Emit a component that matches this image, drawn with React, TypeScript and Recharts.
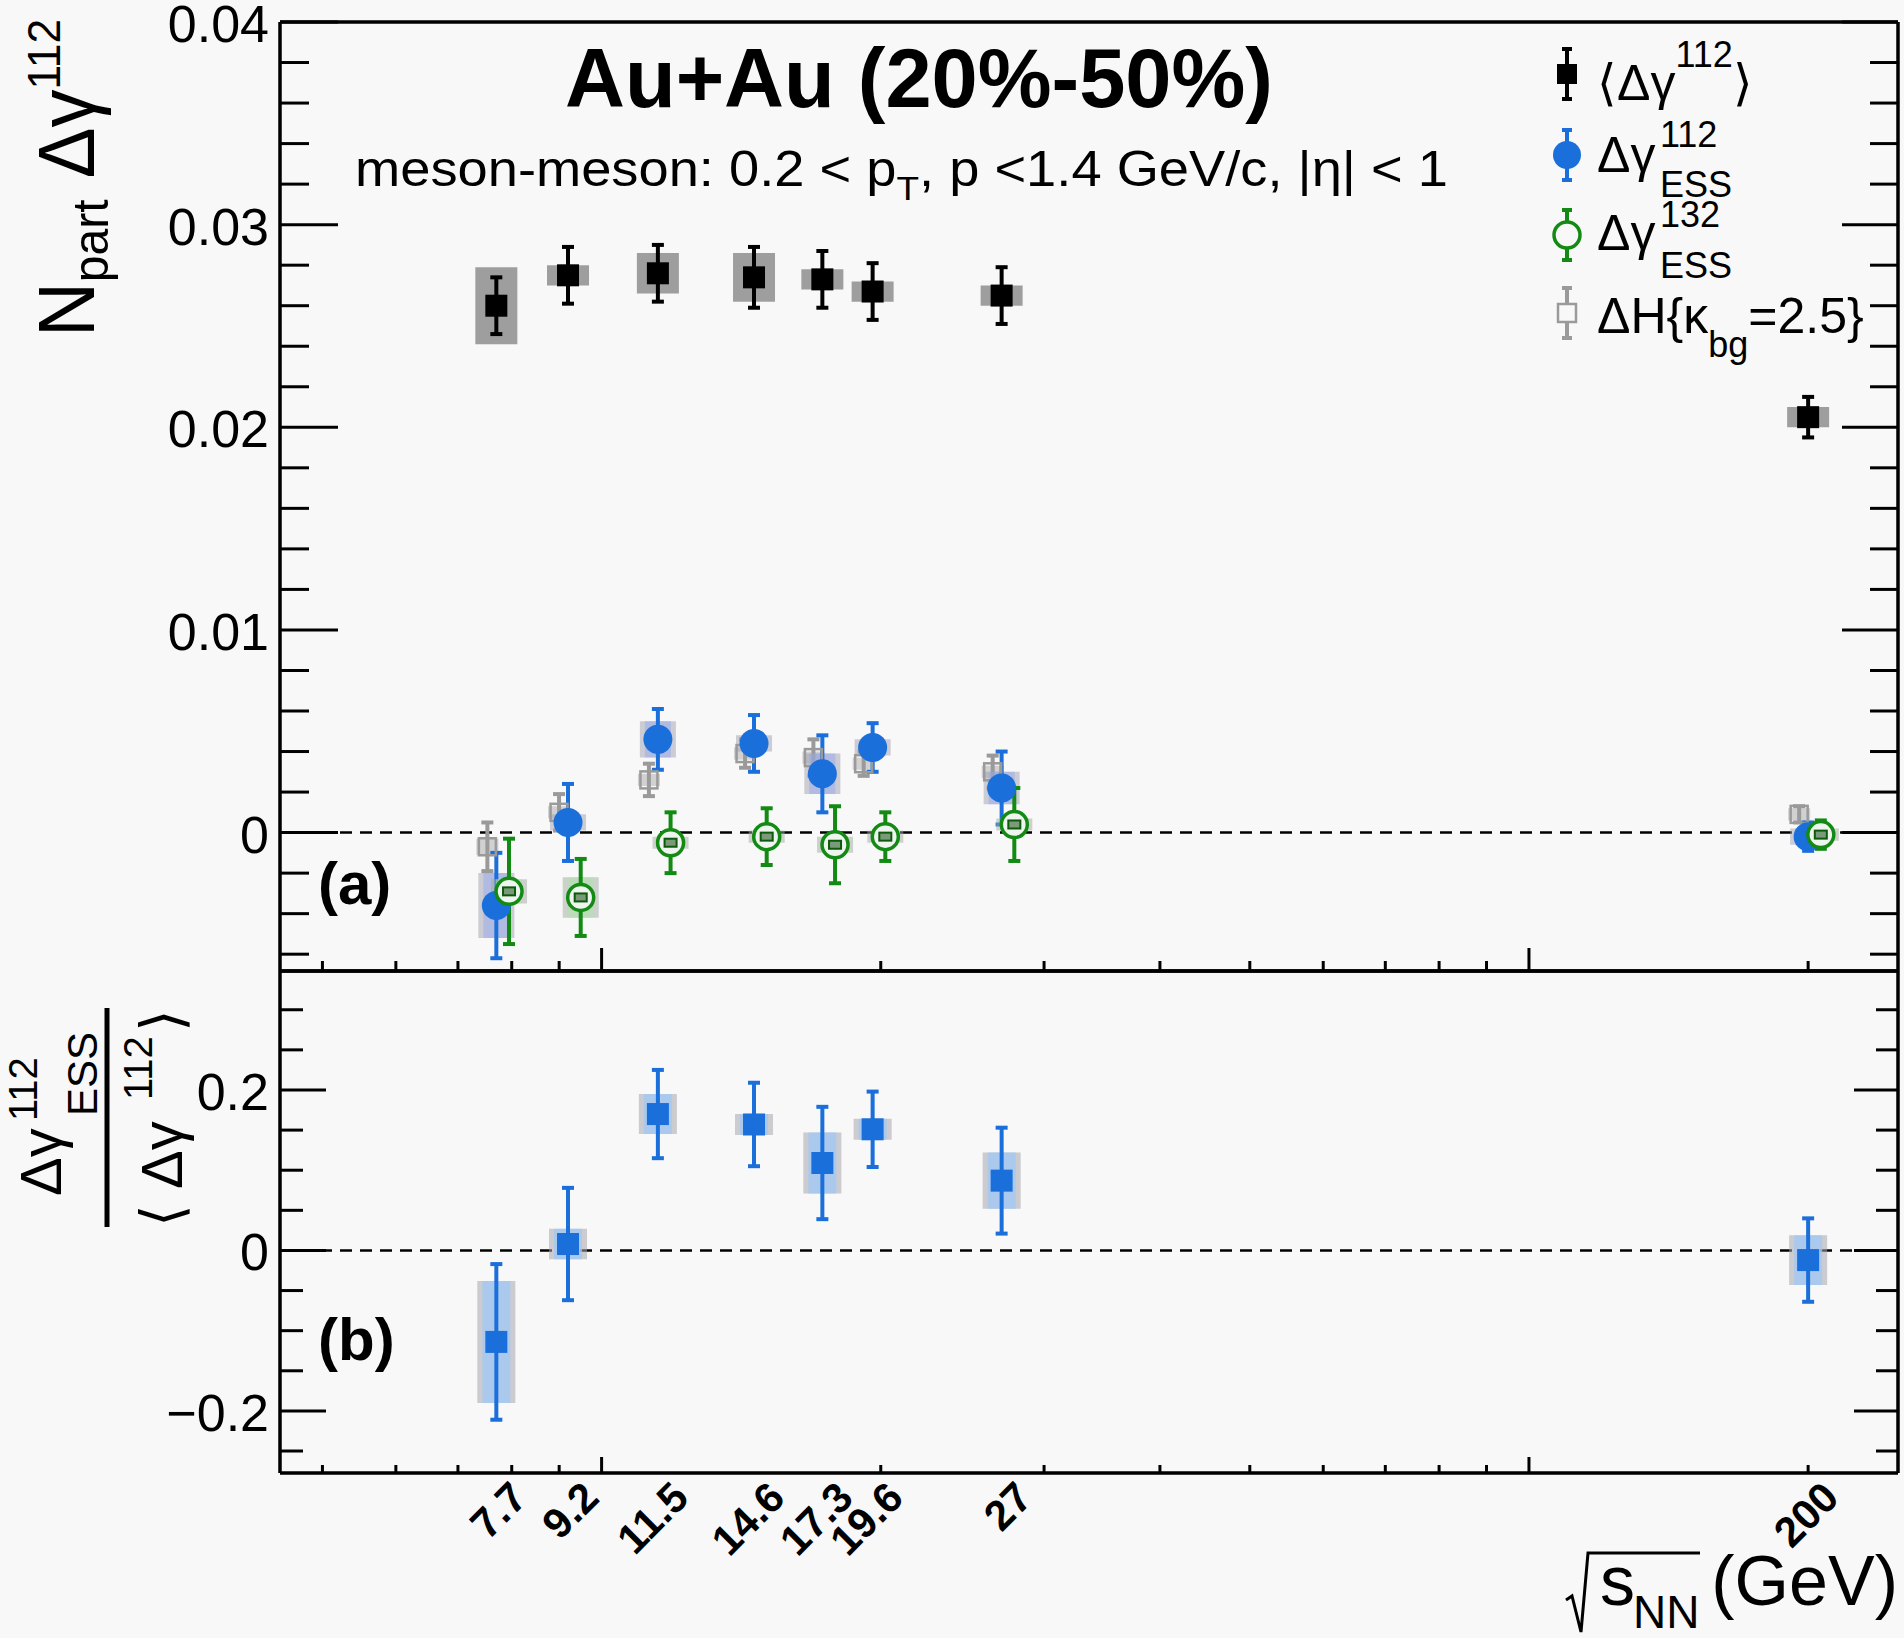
import React from "react";
import { ComposedChart, Scatter, XAxis, YAxis, ErrorBar, ReferenceLine } from "recharts";

// beam energies (GeV) and their axis labels
const ENERGIES = [7.7, 9.2, 11.5, 14.6, 17.3, 19.6, 27, 200];
const ENERGY_LABELS = ["7.7", "9.2", "11.5", "14.6", "17.3", "19.6", "27", "200"];

// <Δγ112>
const MEAN_DG = [0.026, 0.0275, 0.0276, 0.0274, 0.0273, 0.0267, 0.0265, 0.0205];
const MEAN_DG_STAT = [0.0014, 0.0014, 0.0014, 0.0015, 0.0014, 0.0014, 0.0014, 0.001];
const MEAN_DG_SYS = [0.0019, 0.0005, 0.001, 0.0012, 0.0005, 0.0005, 0.0005, 0.0005];

// Δγ112 ESS
const ESS_DG = [-0.0036, 0.0005, 0.0046, 0.0044, 0.0029, 0.0042, 0.0022, -0.0002];
const ESS_DG_STAT = [0.0026, 0.0019, 0.0015, 0.0014, 0.0019, 0.0012, 0.0018, 0.0007];
const ESS_DG_SYS = [0.0016, 0.0004, 0.0009, 0.0004, 0.001, 0.0004, 0.0008, 0.0004];

// Δγ132 ESS
const ESS_DG132 = [-0.0029, -0.0032, -0.0005, -0.0002, -0.0006, -0.0002, 0.0004, -0.0001];
const ESS_DG132_STAT = [0.0026, 0.0019, 0.0015, 0.0014, 0.0019, 0.0012, 0.0018, 0.0007];
const ESS_DG132_SYS = [0.0006, 0.001, 0.0003, 0.0003, 0.0004, 0.0003, 0.0003, 0.0003];

// ΔH{κbg=2.5}
const DELTA_H = [-0.0007, 0.001, 0.0026, 0.0039, 0.0037, 0.0034, 0.003, 0.0009];
const DELTA_H_STAT = [0.0012, 0.0009, 0.0008, 0.0007, 0.0009, 0.0006, 0.0008, 0.0004];
const DELTA_H_SYS = [0.0004, 0.0003, 0.0003, 0.0003, 0.0003, 0.0003, 0.0003, 0.0003];

// Δγ112 ESS / <Δγ112>
const RATIO = [-0.114, 0.008, 0.17, 0.157, 0.109, 0.151, 0.087, -0.012];
const RATIO_STAT = [0.097, 0.07, 0.055, 0.052, 0.07, 0.047, 0.066, 0.052];
const RATIO_SYS = [0.076, 0.019, 0.025, 0.013, 0.038, 0.013, 0.035, 0.031];

// axis ticks
const X_MINOR = [5, 6, 7, 8, 9, 20, 30, 40, 50, 60, 70, 80, 90, 200];
const X_MAJOR = [10, 100];
const X_TICKS = Array.from(new Set([...X_MINOR, ...X_MAJOR, ...ENERGIES])).sort((a, b) => a - b);
const UPPER_Y_TICKS = Array.from({ length: 24 }, (_, i) => Number((-0.006 + 0.002 * i).toFixed(3)));
const LOWER_Y_TICKS = Array.from({ length: 12 }, (_, i) => Number((-0.25 + 0.05 * i).toFixed(2)));

// layout
const W = 1904;
const H = 1638;
const LEFT = 280;
const RIGHT = 1898;
const TOP = 22;
const MID = 971;
const BOTTOM = 1473;
const X_DOMAIN = [4.5, 250];
const UPPER_Y_DOMAIN = [-0.00683, 0.04];
const LOWER_Y_DOMAIN = [-0.2774, 0.3483];
const FONT = '"Liberation Sans", Arial, Helvetica, sans-serif';
const BG = "#f8f8f8";
const BLUE = "#1a6fdb";
const GREEN = "#138a13";
const GREY = "#9a9a9a";

// small x shifts used in the original figure so points don't overlap
const SHIFT_GREY = 0.978;
const SHIFT_GREEN = 1.032;

const rows = (ys: number[], stat: number[], sys: number[], shift = 1) =>
  ENERGIES.map((e, i) => ({ x: e * shift, y: ys[i], stat: stat[i], sys: sys[i] }));

const meanRows = rows(MEAN_DG, MEAN_DG_STAT, MEAN_DG_SYS);
const essRows = rows(ESS_DG, ESS_DG_STAT, ESS_DG_SYS);
const ess132Rows = rows(ESS_DG132, ESS_DG132_STAT, ESS_DG132_SYS, SHIFT_GREEN);
const dhRows = rows(DELTA_H, DELTA_H_STAT, DELTA_H_SYS, SHIFT_GREY);
const ratioRows = rows(RATIO, RATIO_STAT, RATIO_SYS);

const near = (v: number, list: number[]) => list.some((t) => Math.abs(t - v) < 1e-9);

function xTick(minorLen: number, majorLen: number, dir: number, labels: boolean) {
  return (props: any) => {
    const { x, y, payload } = props;
    const v = payload.value;
    const len = near(v, X_MAJOR) ? majorLen : near(v, X_MINOR) ? minorLen : 0;
    const idx = ENERGIES.findIndex((e) => Math.abs(e - v) < 1e-9);
    const lx = x + 33;
    const ly = y + 27;
    return (
      <g>
        {len > 0 && <line x1={x} y1={y} x2={x} y2={y - dir * len} stroke="#000" strokeWidth={3} />}
        {labels && idx >= 0 && (
          <text
            x={lx}
            y={ly}
            transform={`rotate(-45 ${lx} ${ly})`}
            textAnchor="end"
            fontFamily={FONT}
            fontWeight="bold"
            fontSize={42}
            fill="#000"
          >
            {ENERGY_LABELS[idx]}
          </text>
        )}
      </g>
    );
  };
}

function yTick(step: number, majorLen: number, minorLen: number, dir: number, fmt?: (v: number) => string) {
  return (props: any) => {
    const { x, y, payload } = props;
    const v = payload.value;
    const major = Math.abs(v / step - Math.round(v / step)) < 1e-6;
    const len = major ? majorLen : minorLen;
    return (
      <g>
        <line x1={x} y1={y} x2={x + dir * len} y2={y} stroke="#000" strokeWidth={3} />
        {fmt && major && (
          <text x={x - 11} y={y} dy={20} textAnchor="end" fontFamily={FONT} fontSize={52} fill="#000">
            {fmt(v)}
          </text>
        )}
      </g>
    );
  };
}

const fmtUpper = (v: number) => (Math.abs(v) < 1e-9 ? "0" : v.toFixed(2));
const fmtLower = (v: number) => (Math.abs(v) < 1e-9 ? "0" : (v < 0 ? "\u2212" : "") + Math.abs(v).toFixed(1));

const AXIS_LINE = { stroke: "#000", strokeWidth: 3.5 };

// markers
const BlackSquare = (p: any) => <rect x={p.cx - 11} y={p.cy - 11} width={22} height={22} fill="#000" />;
const BlueCircle = (p: any) => <circle cx={p.cx} cy={p.cy} r={14.5} fill={BLUE} />;
const GreenOpenCircle = (p: any) => (
  <g>
    <circle cx={p.cx} cy={p.cy} r={13} fill="#eef5ee" stroke={GREEN} strokeWidth={3.5} />
    <rect x={p.cx - 6} y={p.cy - 4} width={12} height={8} fill="#7a9a7a" stroke="#0d5a0d" strokeWidth={2} />
  </g>
);
const GreyOpenSquare = (p: any) => (
  <rect x={p.cx - 8.5} y={p.cy - 8.5} width={17} height={17} fill="none" stroke={GREY} strokeWidth={2.5} />
);
const BlueSquare = (p: any) => <rect x={p.cx - 11} y={p.cy - 11} width={22} height={22} fill={BLUE} />;

// systematic boxes are drawn as wide error bars: an outer grey one and an optional tinted core
function renderSeries(data: any[], shape: any, color: string, sysColor: string, sysWidth: number, coreColor?: string) {
  return (
    <Scatter data={data} xAxisId="b" yAxisId="l" dataKey="y" shape={shape} isAnimationActive={false}>
      <ErrorBar dataKey="sys" direction="y" width={0} stroke={sysColor} strokeWidth={sysWidth} isAnimationActive={false} />
      {coreColor && (
        <ErrorBar dataKey="sys" direction="y" width={0} stroke={coreColor} strokeWidth={sysWidth - 10} isAnimationActive={false} />
      )}
      <ErrorBar dataKey="stat" direction="y" width={6} stroke={color} strokeWidth={4} isAnimationActive={false} />
    </Scatter>
  );
}

// Recharts skips axes with zero size, so every axis gets 1px and the margins take it back
function frameAxes(yDomain: number[], yTicks: number[], step: number, yMajor: number, yMinor: number,
  fmt: (v: number) => string, xMinor: number, xMajor: number, bottomLabels: boolean, topTicks: boolean) {
  return [
    <XAxis
      key="xb"
      xAxisId="b"
      dataKey="x"
      type="number"
      scale="log"
      domain={X_DOMAIN}
      allowDataOverflow
      ticks={X_TICKS}
      interval={0}
      height={1}
      tickSize={0}
      tickMargin={0}
      tickLine={false}
      axisLine={AXIS_LINE}
      tick={xTick(xMinor, xMajor, 1, bottomLabels)}
    />,
    <XAxis
      key="xt"
      xAxisId="t"
      orientation="top"
      type="number"
      scale="log"
      domain={X_DOMAIN}
      allowDataOverflow
      ticks={X_TICKS}
      interval={0}
      height={1}
      tickSize={0}
      tickMargin={0}
      tickLine={false}
      axisLine={AXIS_LINE}
      tick={topTicks ? xTick(xMinor, xMajor, -1, false) : false}
    />,
    <YAxis
      key="yl"
      yAxisId="l"
      dataKey="y"
      type="number"
      domain={yDomain}
      allowDataOverflow
      ticks={yTicks}
      interval={0}
      width={1}
      tickSize={0}
      tickMargin={0}
      tickLine={false}
      axisLine={AXIS_LINE}
      tick={yTick(step, yMajor, yMinor, 1, fmt)}
    />,
    <YAxis
      key="yr"
      yAxisId="r"
      orientation="right"
      type="number"
      domain={yDomain}
      allowDataOverflow
      ticks={yTicks}
      interval={0}
      width={1}
      tickSize={0}
      tickMargin={0}
      tickLine={false}
      axisLine={AXIS_LINE}
      tick={yTick(step, yMajor - 2, yMinor - 1, -1)}
    />,
  ];
}

function UpperPanel() {
  return (
    <ComposedChart width={W} height={H} margin={{ top: TOP - 1, left: LEFT - 1, right: W - RIGHT - 1, bottom: H - MID - 1 }}>
      {frameAxes(UPPER_Y_DOMAIN, UPPER_Y_TICKS, 0.01, 58, 29, fmtUpper, 10, 23, false, false)}
      <ReferenceLine xAxisId="b" yAxisId="l" y={0} stroke="#000" strokeWidth={2.5} strokeDasharray="12 8" />
      {renderSeries(meanRows, BlackSquare, "#000", "rgba(120,120,120,0.7)", 42)}
      {renderSeries(dhRows, GreyOpenSquare, GREY, "rgba(170,170,170,0.5)", 22)}
      {renderSeries(essRows, BlueCircle, BLUE, "rgba(160,160,175,0.5)", 36, "rgba(150,170,240,0.5)")}
      {renderSeries(ess132Rows, GreenOpenCircle, GREEN, "rgba(160,170,160,0.5)", 36, "rgba(170,230,170,0.5)")}
    </ComposedChart>
  );
}

function LowerPanel() {
  return (
    <ComposedChart width={W} height={H} margin={{ top: MID - 1, left: LEFT - 1, right: W - RIGHT - 1, bottom: H - BOTTOM - 1 }}>
      {frameAxes(LOWER_Y_DOMAIN, LOWER_Y_TICKS, 0.2, 46, 23, fmtLower, 8, 16, true, true)}
      <ReferenceLine xAxisId="b" yAxisId="l" y={0} stroke="#000" strokeWidth={2.5} strokeDasharray="12 8" />
      {renderSeries(ratioRows, BlueSquare, BLUE, "rgba(165,165,175,0.55)", 38, "rgba(160,200,245,0.75)")}
    </ComposedChart>
  );
}

function LegendMark({ y, color, children }: any) {
  return (
    <g>
      <line x1={1567} y1={y - 25} x2={1567} y2={y + 25} stroke={color} strokeWidth={4} />
      <line x1={1562} y1={y - 25} x2={1572} y2={y - 25} stroke={color} strokeWidth={4} />
      <line x1={1562} y1={y + 25} x2={1572} y2={y + 25} stroke={color} strokeWidth={4} />
      {children}
    </g>
  );
}

function Overlay() {
  const t = { fontFamily: FONT, fill: "#000" } as any;
  return (
    <svg width={W} height={H} style={{ position: "absolute", left: 0, top: 0 }}>
      {/* title */}
      <text x={919} y={107} textAnchor="middle" fontWeight="bold" fontSize={83} {...t}>
        Au+Au (20%-50%)
      </text>
      <text x={355} y={186} fontSize={50} textLength={1093} lengthAdjust="spacingAndGlyphs" {...t}>
        meson-meson: 0.2 &lt; p
        <tspan fontSize={34} dy={14}>T</tspan>
        <tspan dy={-14}>, p &lt;1.4 GeV/c, |η| &lt; 1</tspan>
      </text>
      <text x={318} y={904} fontWeight="bold" fontSize={60} {...t}>(a)</text>
      <text x={318} y={1360} fontWeight="bold" fontSize={60} {...t}>(b)</text>

      {/* legend */}
      <LegendMark y={74} color="#000">
        <rect x={1557} y={64} width={20} height={20} fill="#000" />
      </LegendMark>
      <LegendMark y={155} color={BLUE}>
        <circle cx={1567} cy={155} r={14} fill={BLUE} />
      </LegendMark>
      <LegendMark y={235} color={GREEN}>
        <circle cx={1567} cy={235} r={13} fill={BG} stroke={GREEN} strokeWidth={3.5} />
      </LegendMark>
      <LegendMark y={313} color={GREY}>
        <rect x={1558} y={304} width={18} height={18} fill={BG} stroke={GREY} strokeWidth={2.5} />
      </LegendMark>
      <text x={1597} y={100} fontSize={50} {...t}>
        ⟨Δγ<tspan fontSize={36} dy={-33}>112</tspan>
        <tspan dy={33}>⟩</tspan>
      </text>
      <text x={1597} y={172} fontSize={50} {...t}>Δγ</text>
      <text x={1660} y={147} fontSize={36} {...t}>112</text>
      <text x={1660} y={197} fontSize={36} {...t}>ESS</text>
      <text x={1597} y={250} fontSize={50} {...t}>Δγ</text>
      <text x={1660} y={227} fontSize={36} {...t}>132</text>
      <text x={1660} y={278} fontSize={36} {...t}>ESS</text>
      <text x={1597} y={333} fontSize={50} {...t}>
        ΔH{"{"}κ<tspan fontSize={36} dy={24}>bg</tspan>
        <tspan dy={-24}>=2.5{"}"}</tspan>
      </text>

      {/* upper y title */}
      <g transform="translate(94 337) rotate(-90)">
        <text x={0} y={0} fontSize={79} textLength={318} lengthAdjust="spacingAndGlyphs" {...t}>
          N<tspan fontSize={50} dy={14}>part</tspan>
          <tspan dy={-14}> Δγ</tspan>
          <tspan fontSize={46} dy={-34}>112</tspan>
        </text>
      </g>

      {/* lower y title: fraction */}
      <line x1={107} y1={1008} x2={107} y2={1227} stroke="#000" strokeWidth={5} />
      <g transform="translate(61 1196) rotate(-90)">
        <text x={0} y={0} fontSize={58} {...t}>Δγ</text>
        <text x={75} y={-24} fontSize={40} {...t}>112</text>
        <text x={80} y={36} fontSize={42} {...t}>ESS</text>
      </g>
      <g transform="translate(182 1227) rotate(-90)">
        <text x={0} y={0} fontSize={58} {...t}>⟨</text>
        <text x={38} y={0} fontSize={58} {...t}>Δγ</text>
        <text x={127} y={-30} fontSize={40} {...t}>112</text>
        <text x={195} y={0} fontSize={58} {...t}>⟩</text>
      </g>

      {/* x title */}
      <path d="M1566 1600 L1572 1596 L1581 1632 L1588 1553 L1700 1553" fill="none" stroke="#000" strokeWidth={3} />
      <text x={1600} y={1605} fontSize={70} {...t}>s</text>
      <text x={1633} y={1628} fontSize={46} {...t}>NN</text>
      <text x={1898} y={1605} fontSize={70} textAnchor="end" {...t}>(GeV)</text>
    </svg>
  );
}

export default function App() {
  return (
    <div style={{ position: "absolute", left: 0, top: 0, width: W, height: H, background: BG, overflow: "hidden" }}>
      <div style={{ position: "absolute", left: 0, top: 0 }}>
        <UpperPanel />
      </div>
      <div style={{ position: "absolute", left: 0, top: 0 }}>
        <LowerPanel />
      </div>
      <Overlay />
    </div>
  );
}
